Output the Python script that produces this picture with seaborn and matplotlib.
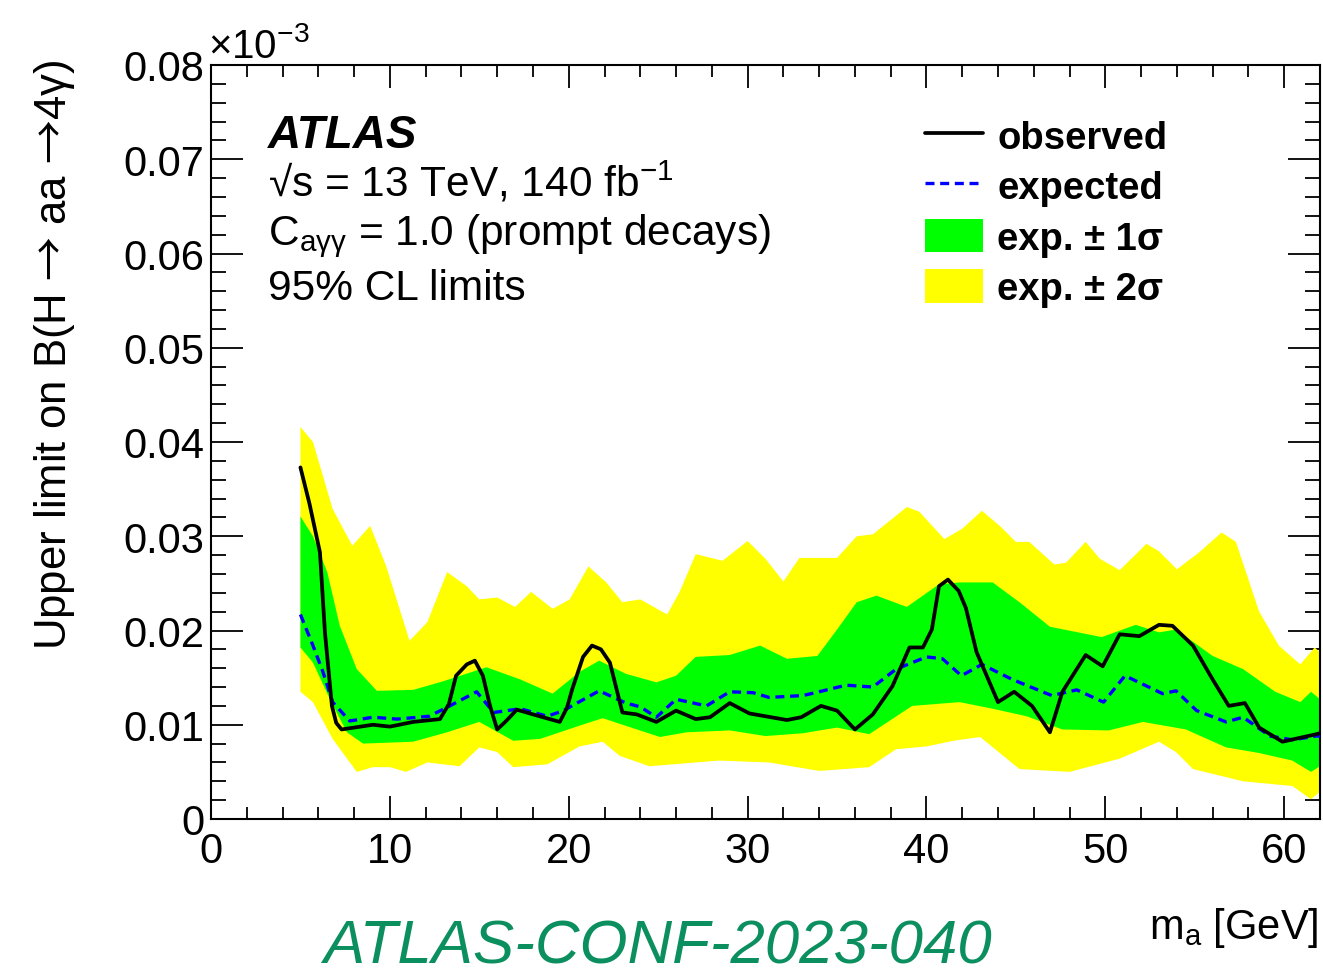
import numpy as np
import matplotlib
matplotlib.use("Agg")
import matplotlib.pyplot as plt
import seaborn as sns
from matplotlib.lines import Line2D
from matplotlib.patches import Patch
from matplotlib.ticker import MultipleLocator

# ---------------- data ----------------
obs_x = [5.0, 5.5, 6.09, 6.37, 6.76, 7.0, 7.3, 8.0, 9.05, 10.0, 11.3, 12.8, 13.3, 13.7, 14.3, 14.75, 15.2, 15.6, 16.0,
         16.5, 17.1, 18.0, 19.5, 19.9, 20.2, 20.8, 21.3, 21.8, 22.3, 23.0, 23.8, 24.9, 26.0, 27.1, 27.9, 29.0,
         30.1, 32.2, 33.0, 34.1, 35.0, 36.0, 37.0, 38.1, 39.05, 39.8, 40.3, 40.7, 41.2, 41.8, 42.2, 42.8,
         44.0, 44.9, 45.9, 46.9, 47.6, 48.9, 49.85, 50.8, 51.9, 53.0, 53.75, 54.9, 56.0, 56.9, 57.8, 58.6,
         59.9, 61.8, 62.0]
obs_y = [0.0373, 0.0335, 0.0283, 0.0198, 0.0120, 0.0102, 0.0095, 0.0097, 0.0100, 0.0098, 0.0103, 0.0106, 0.0122, 0.0152, 0.0164, 0.0168, 0.0152, 0.0120, 0.0095,
         0.0104, 0.0116, 0.0111, 0.0103, 0.0118, 0.0138, 0.0172, 0.0184, 0.0180, 0.0166, 0.0113, 0.0111, 0.0103, 0.0115, 0.0106, 0.0108, 0.0123,
         0.0112, 0.0105, 0.0108, 0.0120, 0.0115, 0.0095, 0.0111, 0.0141, 0.0182, 0.0182, 0.0201, 0.0247, 0.0254, 0.0242, 0.0224, 0.0177,
         0.0124, 0.0135, 0.0120, 0.0092, 0.0135, 0.0174, 0.0162, 0.0196, 0.0194, 0.0206, 0.0205, 0.0184, 0.0148, 0.0120, 0.0123, 0.0097,
         0.0082, 0.0090, 0.0091]

exp_x = [5.0, 5.7, 6.26, 6.8, 7.76, 9.05, 10.4, 12.2, 13.35, 14.85, 15.8, 17.3, 18.8, 19.7, 21.7, 23.2, 24.0, 24.9,
         26.0, 27.7, 29.0, 30.3, 31.2, 33.1, 34.0, 35.5, 37.0, 38.3, 40.0, 40.9, 41.95, 43.1, 44.8, 47.0, 48.4,
         49.9, 51.1, 53.2, 53.95, 55.1, 56.75, 57.7, 59.2, 60.45, 61.8, 62.0]
exp_y = [0.0217, 0.0184, 0.0156, 0.0124, 0.0104, 0.0108, 0.0106, 0.0109, 0.0120, 0.0135, 0.0113, 0.0117, 0.0109, 0.0115, 0.0136, 0.0123, 0.0119, 0.0108,
         0.0127, 0.0120, 0.0135, 0.0134, 0.0129, 0.0131, 0.0135, 0.0142, 0.0140, 0.0159, 0.0172, 0.0170, 0.0152, 0.0164, 0.0148, 0.0131, 0.0137,
         0.0124, 0.0152, 0.0133, 0.0136, 0.0115, 0.0103, 0.0108, 0.0088, 0.0084, 0.0088, 0.0088]

s1_up_x = [5.0, 5.7, 6.5, 7.2, 8.15, 9.27, 11.3, 12.96, 15.4, 17.3, 19.1, 20.6, 21.7, 23.2, 24.9, 26.0, 27.1, 29.0,
           30.7, 32.2, 33.9, 35.0, 36.1, 37.2, 38.9, 40.7, 41.85, 43.7, 45.2, 46.9, 49.8, 51.7, 53.0, 53.95,
           56.0, 57.7, 59.5, 60.9, 61.5, 62.0]
s1_up_y = [0.0321, 0.0300, 0.0262, 0.0205, 0.0159, 0.0136, 0.0137, 0.0146, 0.0161, 0.0148, 0.0133, 0.0156, 0.0168, 0.0154, 0.0145, 0.0152, 0.0172, 0.0174,
           0.0184, 0.0170, 0.0173, 0.0201, 0.0230, 0.0237, 0.0225, 0.0249, 0.0251, 0.0251, 0.0230, 0.0204, 0.0193, 0.0206, 0.0198, 0.0201,
           0.0173, 0.0159, 0.0135, 0.0124, 0.0135, 0.0127]
s1_lo_x = [5.0, 5.7, 6.65, 7.6, 8.5, 11.3, 13.2, 15.0, 16.9, 18.4, 20.6, 21.9, 22.85, 25.1, 26.6, 29.0, 31.0, 33.1,
           35.0, 36.8, 39.2, 41.85, 43.7, 45.6, 47.6, 50.2, 52.1, 54.5, 56.75, 58.6, 60.45, 61.5, 62.0]
s1_lo_y = [0.0182, 0.0166, 0.0127, 0.0092, 0.0080, 0.0082, 0.0092, 0.0103, 0.0083, 0.0085, 0.0099, 0.0107, 0.0101, 0.0087, 0.0092, 0.0094, 0.0088, 0.0091,
           0.0097, 0.0090, 0.0120, 0.0124, 0.0117, 0.0109, 0.0095, 0.0094, 0.0103, 0.0095, 0.0076, 0.0070, 0.0062, 0.0050, 0.0056]

s2_up_x = [5.0, 5.7, 6.8, 7.9, 8.9, 9.8, 11.1, 12.1, 13.2, 14.3, 15.0, 16.0, 17.0, 17.9, 19.1, 20.05, 21.1, 22.1, 23.0,
           24.0, 25.5, 26.2, 27.1, 28.6, 30.0, 31.0, 32.0, 32.9, 35.0, 36.1, 37.0, 38.9, 39.6, 41.0, 42.0, 43.1,
           44.1, 45.0, 45.75, 47.15, 47.8, 48.9, 49.7, 50.8, 52.3, 53.0, 54.0, 55.25, 56.5, 57.3, 58.6, 59.7,
           60.9, 61.7, 62.0]
s2_up_y = [0.0416, 0.0400, 0.0329, 0.0290, 0.0311, 0.0268, 0.0189, 0.0209, 0.0262, 0.0247, 0.0233, 0.0235, 0.0225, 0.0241, 0.0223, 0.0233, 0.0268, 0.0251, 0.0230,
           0.0233, 0.0217, 0.0241, 0.0281, 0.0274, 0.0295, 0.0276, 0.0252, 0.0277, 0.0277, 0.0300, 0.0302, 0.0331, 0.0326, 0.0297, 0.0308, 0.0327,
           0.0311, 0.0294, 0.0294, 0.0270, 0.0272, 0.0294, 0.0276, 0.0264, 0.0292, 0.0284, 0.0265, 0.0283, 0.0304, 0.0294, 0.0220, 0.0184,
           0.0164, 0.0182, 0.0177]
s2_lo_x = [5.0, 5.7, 6.8, 8.15, 9.05, 10.0, 10.9, 12.1, 13.9, 15.0, 16.0, 16.9, 18.8, 20.6, 21.9, 22.85, 24.5, 28.4,
           31.2, 34.0, 36.8, 38.3, 40.0, 41.5, 43.0, 45.2, 48.0, 50.8, 53.0, 53.95, 54.9, 57.7, 60.45, 61.5, 62.0]
s2_lo_y = [0.0135, 0.0124, 0.0085, 0.0050, 0.0055, 0.0055, 0.0050, 0.0060, 0.0056, 0.0076, 0.0071, 0.0055, 0.0058, 0.0077, 0.0082, 0.0067, 0.0056, 0.0062,
           0.0060, 0.0051, 0.0055, 0.0074, 0.0077, 0.0083, 0.0087, 0.0053, 0.0050, 0.0064, 0.0082, 0.0071, 0.0053, 0.0040, 0.0035, 0.0021, 0.0029]

x_ticks = [0, 10, 20, 30, 40, 50, 60]
x_tick_labels = ["0", "10", "20", "30", "40", "50", "60"]
y_ticks = [0, 0.01, 0.02, 0.03, 0.04, 0.05, 0.06, 0.07, 0.08]
y_tick_labels = ["0", "0.01", "0.02", "0.03", "0.04", "0.05", "0.06", "0.07", "0.08"]
legend_labels = ["observed", "expected", "exp. \u00b1 1\u03c3", "exp. \u00b1 2\u03c3"]

# ---------------- style ----------------
sns.set_theme(style="ticks")
plt.rcParams["font.family"] = ["Liberation Sans", "DejaVu Sans"]
plt.rcParams["mathtext.fontset"] = "custom"
plt.rcParams["mathtext.rm"] = "Liberation Sans"
plt.rcParams["mathtext.it"] = "Liberation Sans:italic"
plt.rcParams["mathtext.bf"] = "Liberation Sans:bold"
plt.rcParams["mathtext.sf"] = "Noto Sans CJK JP"
for k in ["text.color", "axes.labelcolor", "xtick.color", "ytick.color", "axes.edgecolor"]:
    plt.rcParams[k] = "black"

W, H = 1323, 978
fig = plt.figure(figsize=(W / 100, H / 100), dpi=100)
fig.patch.set_facecolor("white")
ax = fig.add_axes([211 / W, 1 - 820 / H, (1320 - 211) / W, (820 - 66) / H])
ax.set_facecolor("white")

YELLOW, GREEN, BLUE = "#ffff00", "#00ff00", "#0000ff"
EXP_DASH = (0, (2.7, 1.7))
ax.fill(np.concatenate([s2_up_x, s2_lo_x[::-1]]), np.concatenate([s2_up_y, s2_lo_y[::-1]]),
        color=YELLOW, lw=0, zorder=1)
ax.fill(np.concatenate([s1_up_x, s1_lo_x[::-1]]), np.concatenate([s1_up_y, s1_lo_y[::-1]]),
        color=GREEN, lw=0, zorder=2)

sns.lineplot(x=exp_x, y=exp_y, ax=ax, color=BLUE, lw=2.4, linestyle=EXP_DASH,
             estimator=None, sort=False, zorder=3)
sns.lineplot(x=obs_x, y=obs_y, ax=ax, color="black", lw=2.7, estimator=None, sort=False, zorder=4)

ax.set_xlim(0, 62)
ax.set_ylim(0, 0.08)
ax.set_xticks(x_ticks, x_tick_labels)
ax.set_yticks(y_ticks, y_tick_labels)
ax.xaxis.set_minor_locator(MultipleLocator(2))
ax.yaxis.set_minor_locator(MultipleLocator(0.002))
ax.tick_params(which="both", direction="in", top=True, right=True, width=1.3, labelsize=30, colors="black")
ax.tick_params(axis="x", which="major", length=16.5, pad=9)
ax.tick_params(axis="x", which="minor", length=8.6)
ax.tick_params(axis="y", which="major", length=23, pad=5)
ax.tick_params(axis="y", which="minor", length=10.8)
for s in ax.spines.values():
    s.set_linewidth(1.5)
    s.set_color("black")
ax.set_xlabel("")
ax.set_ylabel("")

# axis labels (ROOT style placement)
fig.text(1318 / W, 1 - 939 / H, r"m$_{\mathregular{a}}$ [GeV]", ha="right", va="baseline", fontsize=30)
fig.text(55 / W, 1 - 60 / H, "Upper limit on B(H $\\mathsf{\u2192}$ aa $\\mathsf{\u2192}$4\u03b3)", rotation=90,
         ha="center", va="top", fontsize=31.5)
fig.text(208 / W, 1 - 58 / H, r"$\mathregular{\times10^{-3}}$", ha="left", va="baseline", fontsize=29)

# ATLAS labels
fig.text(268 / W, 1 - 148 / H, "ATLAS", fontsize=33, fontweight="bold", style="italic", va="baseline")
fig.text(268 / W, 1 - 197 / H, "\u221as = 13 TeV, 140 fb$^{\\mathregular{-1}}$", fontsize=30.5, va="baseline")
fig.text(268 / W, 1 - 245 / H, "C$_{\\mathregular{a\u03b3\u03b3}}$ = 1.0 (prompt decays)", fontsize=30.5, va="baseline")
fig.text(268 / W, 1 - 300 / H, "95% CL limits", fontsize=30.5, va="baseline")

# legend
handles = [Line2D([], [], color="black", lw=2.7),
           Line2D([], [], color=BLUE, lw=2.4, linestyle=EXP_DASH),
           Patch(facecolor=GREEN, edgecolor="none"),
           Patch(facecolor=YELLOW, edgecolor="none")]
leg = ax.legend(handles, legend_labels, loc="upper left", bbox_to_anchor=(925 / W, 1 - 119 / H),
                bbox_transform=fig.transFigure, frameon=False, borderpad=0, borderaxespad=0,
                handlelength=1.52, handleheight=0.97, handletextpad=0.37, labelspacing=0.33,
                prop={"size": 27.5, "weight": "bold"})

# bottom reference
fig.text(657 / W, 1 - 977 / H, "ATLAS-CONF-2023-040", ha="center", va="bottom", fontsize=44.5,
         style="italic", color="#0b8f5f")

fig.savefig("out.png", dpi=100)
